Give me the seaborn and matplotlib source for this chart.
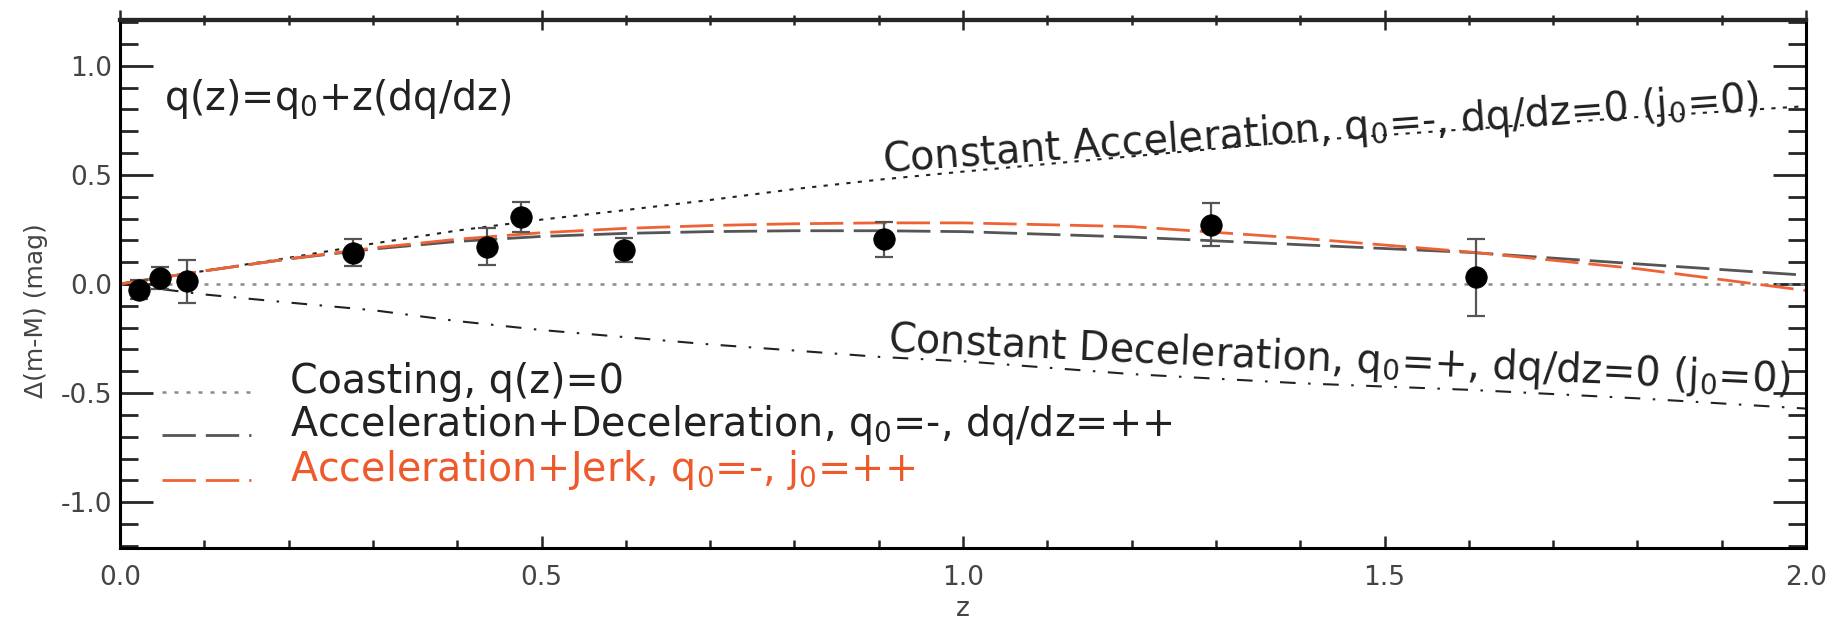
import numpy as np
import pandas as pd
import matplotlib
matplotlib.use("Agg")
import matplotlib.pyplot as plt
import seaborn as sns
from matplotlib.legend_handler import HandlerLine2D
from matplotlib.ticker import MultipleLocator, FormatStrFormatter

# ---------------- data ----------------
z_obs = [0.022, 0.047, 0.079, 0.276, 0.435, 0.475, 0.598, 0.906, 1.294, 1.608]
dm_obs = [-0.026, 0.029, 0.012, 0.144, 0.170, 0.308, 0.157, 0.205, 0.272, 0.030]
dm_err = [0.045, 0.050, 0.100, 0.060, 0.085, 0.070, 0.055, 0.080, 0.098, 0.177]

z_model = [0.0, 0.1, 0.2, 0.3, 0.4, 0.5, 0.6, 0.7, 0.8, 0.9, 1.0, 1.2, 1.4, 1.6, 1.8, 2.0]
const_acc = [0.0, 0.06, 0.12, 0.185, 0.245, 0.295, 0.339, 0.385, 0.435, 0.478, 0.515, 0.585, 0.655, 0.71, 0.765, 0.815]
const_dec = [0.0, -0.048, -0.085, -0.12, -0.17, -0.211, -0.244, -0.277, -0.305, -0.334, -0.354, -0.413, -0.455, -0.485, -0.524, -0.571]
acc_dec = [0.0, 0.06, 0.115, 0.16, 0.195, 0.218, 0.232, 0.24, 0.244, 0.244, 0.24, 0.215, 0.18, 0.145, 0.092, 0.04]
acc_jerk = [0.0, 0.06, 0.115, 0.165, 0.205, 0.235, 0.255, 0.268, 0.276, 0.28, 0.28, 0.263, 0.21, 0.147, 0.07, -0.03]
z_coast = [0.0, 2.0]
coasting = [0.0, 0.0]

x_ticks = [0.0, 0.5, 1.0, 1.5, 2.0]
y_ticks = [-1.0, -0.5, 0.0, 0.5, 1.0]

# ---------------- style ----------------
sns.set_style("ticks")
plt.rcParams["font.family"] = ["DejaVu Sans"]
plt.rcParams["mathtext.default"] = "regular"
plt.rcParams["axes.unicode_minus"] = False

ORANGE_LINE = "#EF6236"
ORANGE_TEXT = "#EE5A2C"
TXT = "#222222"
TICKC = "#444444"

fig = plt.figure(figsize=(18.42, 6.26), dpi=100)
ax = fig.add_axes([0.0652, 0.1246, 0.9153, 0.8435])

# model curves
l_coast, = ax.plot(z_coast, coasting, color="#8a8a8a", lw=1.8, linestyle=(0, (1.6, 3.2)), zorder=2)
sns.lineplot(x=z_model, y=const_acc, ax=ax, color="#222222", lw=1.5,
             linestyle=(0, (2, 3.5)), errorbar=None, zorder=2)
sns.lineplot(x=z_model, y=const_dec, ax=ax, color="#222222", lw=1.5,
             linestyle=(0, (7.5, 6, 1.2, 6)), errorbar=None, zorder=2)
sns.lineplot(x=z_model, y=acc_dec, ax=ax, color="#555555", lw=2.0,
             linestyle=(0, (12, 3.6)), errorbar=None, zorder=2)
sns.lineplot(x=z_model, y=acc_jerk, ax=ax, color=ORANGE_LINE, lw=2.0,
             linestyle=(0, (12, 3.6)), errorbar=None, zorder=2)
lines = ax.get_lines()
l_accdec = lines[3]
l_jerk = lines[4]

# data points
ax.errorbar(z_obs, dm_obs, yerr=dm_err, fmt="none", ecolor="#555555",
            elinewidth=1.6, capsize=6.5, capthick=1.6, zorder=3)
sns.scatterplot(x=z_obs, y=dm_obs, ax=ax, color="black", s=240,
                edgecolor="black", linewidth=0.5, zorder=4)

# axes limits & ticks
ax.set_xlim(0, 2.0)
ax.set_ylim(-1.21, 1.21)
ax.set_xticks(x_ticks)
ax.set_yticks(y_ticks)
ax.xaxis.set_minor_locator(MultipleLocator(0.1))
ax.yaxis.set_minor_locator(MultipleLocator(0.1))
ax.xaxis.set_major_formatter(FormatStrFormatter("%.1f"))
ax.yaxis.set_major_formatter(FormatStrFormatter("%.1f"))

ax.tick_params(axis="y", which="major", direction="in", length=24, width=2.0,
               left=True, right=True, labelsize=19, labelcolor=TICKC, pad=6)
ax.tick_params(axis="y", which="minor", direction="in", length=13, width=2.0,
               left=True, right=True)
ax.tick_params(axis="x", which="major", direction="in", length=8.5, width=1.8,
               bottom=True, top=False, labelsize=19, labelcolor=TICKC, pad=12)
ax.tick_params(axis="x", which="minor", direction="in", length=5.5, width=1.8,
               bottom=True, top=False)

secax = ax.secondary_xaxis("top")
secax.set_xticks(x_ticks)
secax.xaxis.set_minor_locator(MultipleLocator(0.1))
secax.tick_params(axis="x", which="major", direction="inout", length=15, width=1.8, labeltop=False)
secax.tick_params(axis="x", which="minor", direction="inout", length=7, width=1.8)
secax.spines["top"].set_linewidth(3.0)

for sp in ["left", "right", "bottom"]:
    ax.spines[sp].set_linewidth(2.2)
    ax.spines[sp].set_color("black")
ax.spines["top"].set_linewidth(3.0)

ax.set_xlabel("z", fontsize=19, color=TICKC, labelpad=4)
ax.set_ylabel("Δ(m-M) (mag)", fontsize=18, color=TICKC)
ax.yaxis.set_label_coords(-0.043, 0.45)

# annotations
ax.text(0.052, 0.796, "q(z)=q$_0$+z(dq/dz)", fontsize=28.5, color=TXT,
        ha="left", va="baseline")
ax.text(0.905, 0.513, "Constant Acceleration, q$_0$=-, dq/dz=0 (j$_0$=0)",
        fontsize=28.5, color=TXT, ha="left", va="baseline",
        rotation=4.0, rotation_mode="anchor")
ax.text(0.910, -0.305, "Constant Deceleration, q$_0$=+, dq/dz=0 (j$_0$=0)",
        fontsize=28.5, color=TXT, ha="left", va="baseline",
        rotation=-2.6, rotation_mode="anchor")


class BaselineHandler(HandlerLine2D):
    def create_artists(self, legend, orig_handle, xdescent, ydescent,
                       width, height, fontsize, trans):
        arts = super().create_artists(legend, orig_handle, xdescent, ydescent,
                                      width, height, fontsize, trans)
        for a in arts:
            a.set_ydata(np.asarray(a.get_ydata(), dtype=float) - 0.33 * fontsize)
        return arts


leg = ax.legend([l_coast, l_accdec, l_jerk],
                ["Coasting, q(z)=0",
                 "Acceleration+Deceleration, q$_0$=-, dq/dz=++",
                 "Acceleration+Jerk, q$_0$=-, j$_0$=++"],
                loc="upper left", bbox_to_anchor=(0.0249, 0.352),
                frameon=False, fontsize=28.5, borderpad=0, borderaxespad=0,
                handlelength=2.25, handletextpad=0.98, labelspacing=0.02,
                handler_map={matplotlib.lines.Line2D: BaselineHandler()})
for t in leg.get_texts():
    t.set_color(TXT)
leg.get_texts()[2].set_color(ORANGE_TEXT)

fig.savefig("out.png", dpi=100)
